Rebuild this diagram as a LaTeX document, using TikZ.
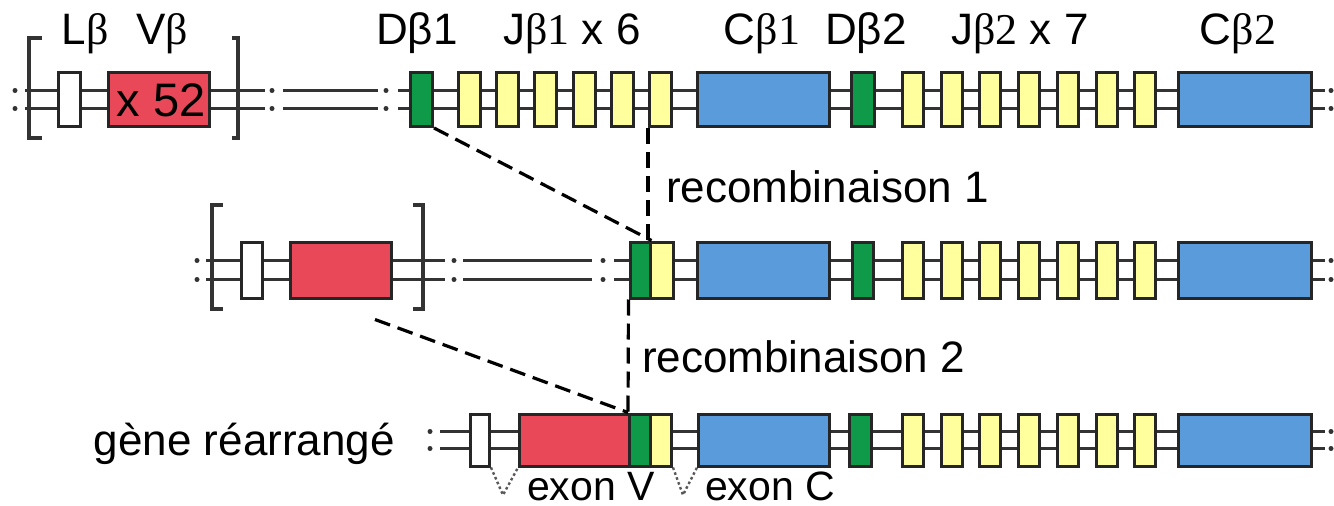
\documentclass[tikz,border=0pt]{standalone}
\usepackage{fontspec}
\setmainfont{Liberation Sans}
\newfontfamily\serifgr{Liberation Serif}
\newcommand{\serb}[1]{{\serifgr β#1}}
\usetikzlibrary{calc}
\definecolor{vred}{HTML}{E84858}
\definecolor{dgreen}{HTML}{0E9A48}
\definecolor{jyellow}{HTML}{FFFF9E}
\definecolor{cblue}{HTML}{5A9BDC}
\definecolor{boxline}{HTML}{262626}
\definecolor{wirecol}{HTML}{333333}
\begin{document}
\begin{tikzpicture}[x=1pt,y=-1pt,
  box/.style={draw=boxline, line width=3pt, inner sep=0pt, anchor=west},
  wire/.style={draw=wirecol, line width=3.2pt},
  dotc/.style={fill=wirecol, circle, inner sep=0pt, minimum size=5pt},
  cut/.style={draw=black, line width=3.2pt, dash pattern=on 16pt off 8pt},
  splice/.style={draw=black!65, line width=2.4pt, dash pattern=on 2.6pt off 2.6pt},
  brk/.style={draw=wirecol, line width=3.2pt},
  lbl/.style={font=\fontsize{44}{50}\selectfont, inner sep=0pt, text=black, anchor=base}
]
\useasboundingbox (0,0) rectangle (1334,506);

% ---------- double strands with their interruption dots ----------
\foreach \y in {90.5,108.5} {
  \draw[wire] (25,\y) -- (265,\y);
  \draw[wire] (283,\y) -- (378,\y);
  \draw[wire] (398,\y) -- (1325,\y);
  \foreach \x in {15,272,386,1331} \node[dotc] at (\x,\y) {};
}
\foreach \y in {260.5,279.5} {
  \draw[wire] (206,\y) -- (445,\y);
  \draw[wire] (463,\y) -- (592,\y);
  \draw[wire] (614,\y) -- (1325,\y);
  \foreach \x in {197,454,603,1331} \node[dotc] at (\x,\y) {};
}
\foreach \y in {431.5,448.5} {
  \draw[wire] (440,\y) -- (1325,\y);
  \foreach \x in {430,1331} \node[dotc] at (\x,\y) {};
}

% ---------- brackets around the V segment repeat ----------
\draw[brk] (42,38) -- (29,38) -- (29,138) -- (42,138);
\draw[brk] (232,38) -- (238,38) -- (238,138) -- (232,138);
\draw[brk] (223,205) -- (212,205) -- (212,309) -- (223,309);
\draw[brk] (413,205) -- (423,205) -- (423,309) -- (413,309);

% ---------- germline locus ----------
\begin{scope}[every node/.append style={minimum height=54pt}]
\node[box, fill=white, minimum width=22pt] (l1) at (57,99.5) {};
\node[box, fill=vred, minimum width=101pt] (v1) at (107,99.5) {};
\node[box, fill=dgreen, minimum width=22pt] (d1) at (409,99.5) {};
\foreach \i in {0,...,5}
  \node[box, fill=jyellow, minimum width=22pt] (ja\i) at (457+38.2*\i,99.5) {};
\node[box, fill=cblue, minimum width=132pt] (c1) at (696,99.5) {};
\node[box, fill=dgreen, minimum width=23pt] (e1) at (850,99.5) {};
\foreach \i in {0,...,6}
  \node[box, fill=jyellow, minimum width=21pt] (jb\i) at (901+38.7*\i,99.5) {};
\node[box, fill=cblue, minimum width=133pt] (k1) at (1177,99.5) {};
\end{scope}
\node[font=\fontsize{47}{52}\selectfont, inner sep=0pt] (x52) at ($(v1.center)+(2,1)$) {x 52};

% ---------- after D-J joining ----------
\begin{scope}[every node/.append style={minimum height=56pt}]
\node[box, fill=white, minimum width=21pt] (l2) at (240,270) {};
\node[box, fill=vred, minimum width=101pt] (v2) at (289,270) {};
\node[box, fill=dgreen, minimum width=20pt] (d2) at (628.5,270) {};
\node[box, fill=jyellow, minimum width=23pt] (j2) at (648.5,270) {};
\node[box, fill=cblue, minimum width=132pt] (c2) at (696,270) {};
\node[box, fill=dgreen, minimum width=21pt] (e2) at (851,270) {};
\foreach \i in {0,...,6}
  \node[box, fill=jyellow, minimum width=21pt] (jc\i) at (901+38.7*\i,270) {};
\node[box, fill=cblue, minimum width=133pt] (k2) at (1177,270) {};
\end{scope}

% ---------- rearranged gene ----------
\begin{scope}[every node/.append style={minimum height=52pt}]
\node[box, fill=white, minimum width=19pt] (l3) at (469,440) {};
\node[box, fill=vred, minimum width=110pt] (v3) at (518,440) {};
\node[box, fill=dgreen, minimum width=21pt] (d3) at (628,440) {};
\node[box, fill=jyellow, minimum width=21pt] (j3) at (649,440) {};
\node[box, fill=cblue, minimum width=131pt] (c3) at (697,440) {};
\node[box, fill=dgreen, minimum width=22pt] (e3) at (848,440) {};
\foreach \i in {0,...,6}
  \node[box, fill=jyellow, minimum width=21pt] (jd\i) at (901+38.7*\i,440) {};
\node[box, fill=cblue, minimum width=133pt] (k3) at (1177,440) {};
\end{scope}

% ---------- recombination guides ----------
\coordinate (vcut) at ($(v2.south east)+(-18,20)$);
\draw[cut] (d1.south east) -- (d2.north east);
\draw[cut] (ja5.south west) -- (ja5.south west |- d2.north);
\draw[cut] (vcut) -- (d3.north west);
\draw[cut] (d2.south west) -- (d3.north west);

% ---------- splicing marks ----------
\coordinate (s1) at (503,495);
\coordinate (s2) at (683,495);
\draw[splice] (l3.south east) -- (s1) -- (v3.south west);
\draw[splice] (j3.south east) -- (s2) -- (c3.south west);

% ---------- labels ----------
\node[lbl] (tl) at (85,45) {L\serb{}};
\node[lbl] (tv) at (162,45) {V\serb{}};
\node[lbl] (td1) at (417,45) {Dβ1};
\node[lbl] (tj1) at (572,45) {J\serb{1} x 6};
\node[lbl] (tc1) at (762,45) {C\serb{1}};
\node[lbl] (td2) at (866,45) {Dβ2};
\node[lbl] (tj2) at (1020,45) {J\serb{2} x 7};
\node[lbl] (tc2) at (1238,45) {C\serb{2}};
\node[lbl, anchor=base west] (r1) at (666,202) {recombinaison 1};
\node[lbl, anchor=base west] (r2) at (642,372) {recombinaison 2};
\node[lbl, anchor=base east] (gr) at (395,455) {gène réarrangé};
\node[lbl, font=\fontsize{41}{48}\selectfont] (ev) at (591,500) {exon V};
\node[lbl, font=\fontsize{41}{48}\selectfont] (ec) at (770,500) {exon C};
\end{tikzpicture}
\end{document}
